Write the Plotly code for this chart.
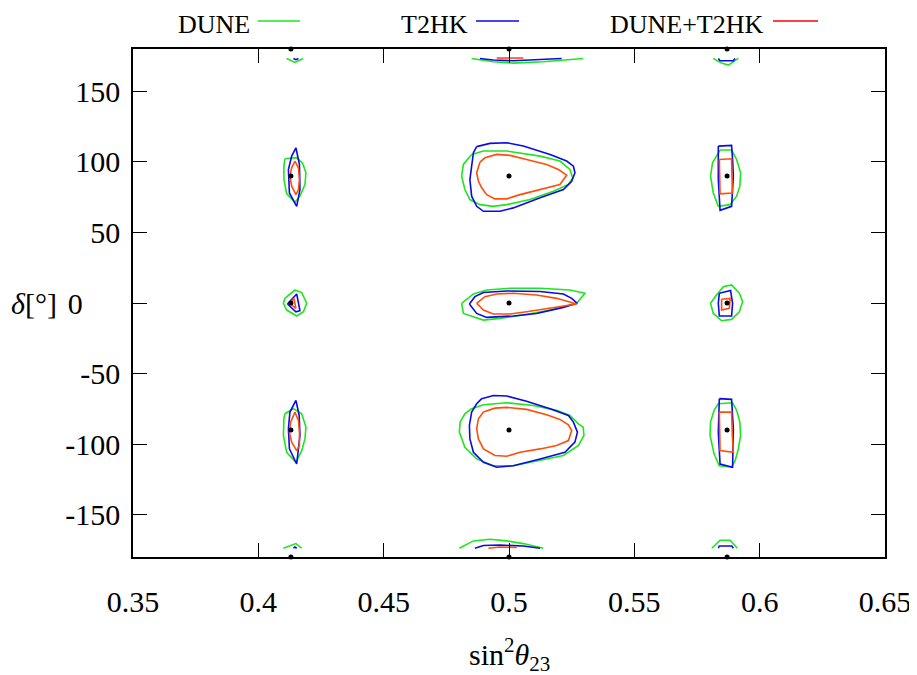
import plotly.graph_objects as go

# ---------------- axis ticks ----------------
x_ticks = [0.35, 0.4, 0.45, 0.5, 0.55, 0.6, 0.65]
x_tick_labels = ["0.35", "0.4", "0.45", "0.5", "0.55", "0.6", "0.65"]
y_ticks = [-150, -100, -50, 0, 50, 100, 150]
# the reference draws its "0" label shifted left, next to the axis title
y_tick_labels = ["-150", "-100", "-50", "0" + "\u00a0" * 5, "50", "100", "150"]

# ---------------- true (best-fit) points ----------------
true_s23 = [0.413, 0.5, 0.587]
true_delta = [-180, -90, 0, 90, 180]

# ---------------- DUNE contours (green) ----------------
dune_mid_up_x = [0.4851, 0.4898, 0.4991, 0.5124, 0.5203, 0.5243, 0.5254, 0.5237, 0.5177, 0.5084, 0.4991, 0.4937, 0.4884, 0.4844, 0.4824, 0.4811, 0.4818, 0.4851]
dune_mid_up_y = [105.3, 107.7, 107.7, 104.1, 100.6, 94.6, 88.7, 84.0, 79.2, 73.3, 69.7, 68.5, 69.7, 73.3, 80.4, 89.9, 98.2, 105.3]
dune_mid_0_x = [0.4811, 0.4858, 0.4911, 0.5004, 0.5124, 0.5243, 0.5303, 0.5270, 0.5164, 0.5057, 0.4964, 0.4898, 0.4818, 0.4811]
dune_mid_0_y = [-0.2, 6.4, 9.2, 10.4, 10.4, 9.2, 6.9, -0.2, -5.0, -8.5, -10.9, -12.1, -7.4, -0.2]
dune_mid_dn_x = [0.4851, 0.4898, 0.4991, 0.5097, 0.5190, 0.5243, 0.5277, 0.5296, 0.5299, 0.5277, 0.5217, 0.5124, 0.5017, 0.4938, 0.4871, 0.4824, 0.4802, 0.4805, 0.4824, 0.4851]
dune_mid_dn_y = [-74.9, -72.1, -70.7, -72.6, -76.1, -79.7, -85.6, -88.0, -93.9, -101.0, -108.1, -111.7, -115.3, -115.3, -110.5, -102.2, -91.5, -84.4, -78.5, -74.9]
dune_lo_up_x = [0.4106, 0.4153, 0.4177, 0.4190, 0.4186, 0.4166, 0.4146, 0.4113, 0.4102, 0.4102, 0.4106]
dune_lo_up_y = [102.2, 103.0, 98.9, 92.3, 84.0, 75.7, 71.4, 77.6, 87.5, 97.0, 102.2]
dune_lo_0_x = [0.4106, 0.4146, 0.4173, 0.4193, 0.4180, 0.4153, 0.4113, 0.4100, 0.4106]
dune_lo_0_y = [3.3, 9.2, 7.4, -0.2, -6.2, -9.2, -5.0, -0.2, 3.3]
dune_lo_dn_x = [0.4106, 0.4140, 0.4173, 0.4190, 0.4186, 0.4173, 0.4150, 0.4113, 0.4100, 0.4102, 0.4106]
dune_lo_dn_y = [-78.5, -74.9, -78.5, -88.0, -96.3, -104.6, -112.9, -105.8, -93.9, -82.0, -78.5]
dune_hi_up_x = [0.5842, 0.5888, 0.5908, 0.5924, 0.5921, 0.5908, 0.5882, 0.5835, 0.5815, 0.5804, 0.5812, 0.5835, 0.5842]
dune_hi_up_y = [108.4, 108.4, 101.7, 92.3, 82.8, 75.7, 69.7, 68.5, 78.0, 89.9, 99.4, 106.5, 108.4]
dune_hi_0_x = [0.5828, 0.5855, 0.5888, 0.5919, 0.5932, 0.5919, 0.5888, 0.5848, 0.5815, 0.5804, 0.5828]
dune_hi_0_y = [5.7, 11.6, 12.8, 6.9, 0.9, -6.2, -11.6, -12.6, -7.4, -0.2, 5.7]
dune_hi_dn_x = [0.5835, 0.5892, 0.5908, 0.5921, 0.5924, 0.5915, 0.5902, 0.5888, 0.5839, 0.5818, 0.5802, 0.5804, 0.5818, 0.5835]
dune_hi_dn_y = [-71.4, -70.7, -76.1, -84.4, -93.9, -103.4, -111.7, -116.4, -115.3, -106.9, -93.9, -84.4, -76.1, -71.4]
dune_lo_top_x = [0.4113, 0.4146, 0.4179]
dune_lo_top_y = [173.3, 170.5, 173.3]
dune_mid_top_x = [0.4851, 0.4937, 0.5017, 0.5137, 0.5296]
dune_mid_top_y = [173.3, 171.0, 170.0, 171.0, 173.3]
dune_hi_top_x = [0.5815, 0.5848, 0.5875, 0.5915]
dune_hi_top_y = [173.3, 170.0, 168.6, 173.3]
dune_lo_bot_x = [0.4100, 0.4150, 0.4173]
dune_lo_bot_y = [-173.8, -170.5, -173.8]
dune_mid_bot_x = [0.4802, 0.4858, 0.4924, 0.4991, 0.5057, 0.5137]
dune_mid_bot_y = [-173.8, -168.6, -167.4, -168.6, -170.5, -173.8]
dune_hi_bot_x = [0.5809, 0.5842, 0.5882, 0.5911]
dune_hi_bot_y = [-173.8, -168.1, -168.1, -173.8]

# ---------------- T2HK contours (blue) ----------------
t2hk_mid_up_x = [0.4871, 0.4924, 0.4991, 0.5057, 0.5164, 0.5230, 0.5257, 0.5263, 0.5250, 0.5217, 0.5124, 0.5017, 0.4964, 0.4898, 0.4871, 0.4851, 0.4844, 0.4851, 0.4858, 0.4871]
t2hk_mid_up_y = [110.8, 113.1, 113.6, 111.2, 105.3, 100.6, 97.0, 92.3, 86.3, 80.4, 74.5, 67.4, 65.0, 65.0, 68.5, 75.7, 87.5, 99.4, 106.5, 110.8]
t2hk_mid_0_x = [0.4842, 0.4864, 0.4898, 0.4991, 0.5124, 0.5217, 0.5250, 0.5272, 0.5217, 0.5110, 0.5017, 0.4911, 0.4871, 0.4842]
t2hk_mid_0_y = [-0.7, 4.5, 7.4, 8.5, 8.1, 6.4, 3.3, -0.2, -3.1, -7.4, -9.2, -10.2, -7.4, -0.7]
t2hk_mid_dn_x = [0.4891, 0.4938, 0.4991, 0.5070, 0.5164, 0.5237, 0.5257, 0.5273, 0.5263, 0.5223, 0.5124, 0.5017, 0.4951, 0.4898, 0.4858, 0.4844, 0.4842, 0.4851, 0.4871, 0.4891]
t2hk_mid_dn_y = [-67.8, -65.5, -65.9, -69.7, -74.9, -79.7, -84.4, -91.5, -98.6, -105.8, -110.5, -115.3, -116.4, -112.9, -105.8, -96.3, -86.8, -77.3, -71.4, -67.8]
t2hk_lo_up_x = [0.4150, 0.4164, 0.4166, 0.4153, 0.4124, 0.4120, 0.4133, 0.4150]
t2hk_lo_up_y = [110.0, 98.2, 80.4, 68.5, 78.0, 94.6, 104.1, 110.0]
t2hk_lo_0_x = [0.4116, 0.4153, 0.4166, 0.4150, 0.4116]
t2hk_lo_0_y = [-0.7, 6.4, -5.5, -6.2, -0.7]
t2hk_lo_dn_x = [0.4150, 0.4163, 0.4166, 0.4153, 0.4124, 0.4120, 0.4126, 0.4150]
t2hk_lo_dn_y = [-69.0, -79.7, -93.9, -114.1, -103.4, -89.2, -77.3, -69.0]
t2hk_hi_up_x = [0.5835, 0.5888, 0.5892, 0.5895, 0.5888, 0.5842, 0.5835, 0.5835]
t2hk_hi_up_y = [111.2, 111.7, 101.7, 89.9, 68.5, 65.7, 87.5, 111.2]
t2hk_hi_0_x = [0.5839, 0.5884, 0.5892, 0.5888, 0.5839, 0.5835, 0.5839]
t2hk_hi_0_y = [6.9, 8.8, -0.2, -9.2, -9.2, -0.2, 6.9]
t2hk_hi_dn_x = [0.5839, 0.5888, 0.5895, 0.5892, 0.5842, 0.5835, 0.5839]
t2hk_hi_dn_y = [-67.8, -68.3, -89.2, -116.4, -114.1, -91.5, -67.8]
t2hk_lo_top_x = [0.4140, 0.4150, 0.4160]
t2hk_lo_top_y = [173.3, 172.4, 173.3]
t2hk_mid_top_x = [0.4884, 0.4937, 0.5017, 0.5210]
t2hk_mid_top_y = [173.3, 172.2, 171.7, 173.3]
t2hk_hi_top_x = [0.5835, 0.5842, 0.5895, 0.5902]
t2hk_hi_top_y = [173.3, 171.7, 171.7, 173.3]
t2hk_lo_bot_x = [0.4140, 0.4146, 0.4153]
t2hk_lo_bot_y = [-173.8, -172.9, -173.8]
t2hk_mid_bot_x = [0.4864, 0.4898, 0.4964, 0.5057, 0.5124]
t2hk_mid_bot_y = [-173.8, -171.9, -171.5, -172.2, -173.8]
t2hk_hi_bot_x = [0.5835, 0.5839, 0.5889, 0.5895]
t2hk_hi_bot_y = [-173.8, -172.2, -172.2, -173.8]

# ---------------- DUNE+T2HK contours (red) ----------------
comb_mid_up_x = [0.4884, 0.4904, 0.4951, 0.5004, 0.5070, 0.5150, 0.5197, 0.5230, 0.5203, 0.5124, 0.5044, 0.4991, 0.4944, 0.4911, 0.4891, 0.4878, 0.4871, 0.4884]
comb_mid_up_y = [99.8, 102.9, 105.3, 104.6, 101.7, 98.2, 94.6, 90.6, 84.0, 80.4, 76.8, 73.8, 73.8, 76.8, 81.6, 86.3, 92.3, 99.8]
comb_mid_0_x = [0.4871, 0.4904, 0.4951, 0.5017, 0.5110, 0.5190, 0.5270, 0.5164, 0.5070, 0.5004, 0.4937, 0.4898, 0.4871]
comb_mid_0_y = [-0.2, 4.5, 6.4, 6.9, 5.7, 3.3, -0.7, -3.8, -6.2, -7.8, -7.8, -5.0, -0.2]
comb_mid_dn_x = [0.4898, 0.4944, 0.4991, 0.5070, 0.5150, 0.5203, 0.5237, 0.5250, 0.5237, 0.5190, 0.5124, 0.5044, 0.4991, 0.4944, 0.4898, 0.4878, 0.4871, 0.4878, 0.4898]
comb_mid_dn_y = [-77.3, -74.5, -74.0, -75.4, -79.2, -82.5, -86.3, -90.4, -97.5, -101.0, -103.4, -105.8, -108.6, -108.1, -103.4, -96.3, -89.2, -82.0, -77.3]
comb_lo_up_x = [0.4146, 0.4160, 0.4164, 0.4160, 0.4150, 0.4133, 0.4126, 0.4133, 0.4146]
comb_lo_up_y = [100.6, 95.8, 87.5, 80.4, 76.8, 82.8, 89.9, 95.8, 100.6]
comb_lo_0_x = [0.4124, 0.4142, 0.4150, 0.4124]
comb_lo_0_y = [-0.2, 3.3, -3.8, -0.2]
comb_lo_dn_x = [0.4146, 0.4160, 0.4164, 0.4164, 0.4153, 0.4133, 0.4124, 0.4129, 0.4146]
comb_lo_dn_y = [-77.3, -83.2, -91.5, -101.0, -104.6, -98.6, -91.5, -84.4, -77.3]
comb_hi_up_x = [0.5839, 0.5888, 0.5891, 0.5842, 0.5839]
comb_hi_up_y = [101.7, 102.2, 78.0, 77.3, 101.7]
comb_hi_0_x = [0.5848, 0.5882, 0.5879, 0.5848, 0.5848]
comb_hi_0_y = [2.6, 3.3, -3.8, -5.0, 2.6]
comb_hi_dn_x = [0.5839, 0.5888, 0.5891, 0.5895, 0.5842, 0.5839]
comb_hi_dn_y = [-77.3, -77.3, -93.9, -105.8, -104.6, -77.3]
comb_mid_top_x = [0.4951, 0.5057]
comb_mid_top_y = [173.6, 173.6]
comb_mid_bot_x = [0.4918, 0.4964, 0.5031]
comb_mid_bot_y = [-173.8, -172.9, -173.3]

dune_contours = [
    (dune_mid_up_x, dune_mid_up_y), (dune_mid_0_x, dune_mid_0_y), (dune_mid_dn_x, dune_mid_dn_y),
    (dune_lo_up_x, dune_lo_up_y), (dune_lo_0_x, dune_lo_0_y), (dune_lo_dn_x, dune_lo_dn_y),
    (dune_hi_up_x, dune_hi_up_y), (dune_hi_0_x, dune_hi_0_y), (dune_hi_dn_x, dune_hi_dn_y),
    (dune_lo_top_x, dune_lo_top_y), (dune_mid_top_x, dune_mid_top_y), (dune_hi_top_x, dune_hi_top_y),
    (dune_lo_bot_x, dune_lo_bot_y), (dune_mid_bot_x, dune_mid_bot_y), (dune_hi_bot_x, dune_hi_bot_y),
]
t2hk_contours = [
    (t2hk_mid_up_x, t2hk_mid_up_y), (t2hk_mid_0_x, t2hk_mid_0_y), (t2hk_mid_dn_x, t2hk_mid_dn_y),
    (t2hk_lo_up_x, t2hk_lo_up_y), (t2hk_lo_0_x, t2hk_lo_0_y), (t2hk_lo_dn_x, t2hk_lo_dn_y),
    (t2hk_hi_up_x, t2hk_hi_up_y), (t2hk_hi_0_x, t2hk_hi_0_y), (t2hk_hi_dn_x, t2hk_hi_dn_y),
    (t2hk_lo_top_x, t2hk_lo_top_y), (t2hk_mid_top_x, t2hk_mid_top_y), (t2hk_hi_top_x, t2hk_hi_top_y),
    (t2hk_lo_bot_x, t2hk_lo_bot_y), (t2hk_mid_bot_x, t2hk_mid_bot_y), (t2hk_hi_bot_x, t2hk_hi_bot_y),
]
comb_contours = [
    (comb_mid_up_x, comb_mid_up_y), (comb_mid_0_x, comb_mid_0_y), (comb_mid_dn_x, comb_mid_dn_y),
    (comb_lo_up_x, comb_lo_up_y), (comb_lo_0_x, comb_lo_0_y), (comb_lo_dn_x, comb_lo_dn_y),
    (comb_hi_up_x, comb_hi_up_y), (comb_hi_0_x, comb_hi_0_y), (comb_hi_dn_x, comb_hi_dn_y),
    (comb_mid_top_x, comb_mid_top_y), (comb_mid_bot_x, comb_mid_bot_y),
]

GREEN = "#1ee61e"
BLUE = "#0a0ae6"
ORANGE = "#ff4d0a"
RED = "#ff0000"
FONT = "Liberation Serif"
FS = 30


def joined(contours):
    xs, ys = [], []
    for cx, cy in contours:
        xs += list(cx) + [None]
        ys += list(cy) + [None]
    return xs, ys


fig = go.Figure()
for name, cont, col in [("DUNE", dune_contours, GREEN), ("T2HK", t2hk_contours, BLUE),
                        ("DUNE+T2HK", comb_contours, ORANGE)]:
    xs, ys = joined(cont)
    fig.add_trace(go.Scatter(x=xs, y=ys, mode="lines", name=name, showlegend=False,
                             line=dict(color=col, width=1.6), connectgaps=False,
                             hoverinfo="skip"))

px, py = [], []
for d in true_delta:
    for s in true_s23:
        px.append(s)
        py.append(d)
fig.add_trace(go.Scatter(x=px, y=py, mode="markers", showlegend=False, cliponaxis=False,
                         marker=dict(color="black", size=5)))

axis_common = dict(showline=True, linecolor="black", linewidth=1.5, mirror="ticks",
                   ticks="inside", ticklen=14, tickwidth=1.3, tickcolor="black",
                   showgrid=False, zeroline=False, automargin=False,
                   tickfont=dict(family=FONT, size=FS, color="black"))
fig.update_xaxes(range=[0.35, 0.65], tickvals=x_ticks, ticktext=x_tick_labels,
                 ticklabelstandoff=17, **axis_common)
fig.update_yaxes(range=[-180, 180], tickvals=y_ticks, ticktext=y_tick_labels,
                 ticklabelstandoff=5, **axis_common)

annotations = [
    dict(text="<i>δ</i>[°]", xref="paper", yref="paper", x=-0.132, y=0.5, showarrow=False,
         font=dict(family=FONT, size=FS, color="black"), xanchor="center", yanchor="middle"),
    dict(text="sin<sup>2</sup><i>θ</i><sub>23</sub>", xref="paper", yref="paper", x=0.5, y=-0.192,
         showarrow=False, font=dict(family=FONT, size=FS, color="black"),
         xanchor="center", yanchor="middle"),
]
shapes = []
legend_items = [("DUNE", GREEN, 252, 258, 300), ("T2HK", BLUE, 470, 476, 519),
                ("DUNE+T2HK", RED, 766, 773, 818)]
for label, col, tx, l0, l1 in legend_items:
    annotations.append(dict(text=label, xref="paper", yref="paper", x=(tx - 133) / 752,
                            y=(557 - 24) / 508, showarrow=False, xanchor="right", yanchor="middle",
                            font=dict(family=FONT, size=26, color="black")))
    shapes.append(dict(type="line", xref="paper", yref="paper", x0=(l0 - 133) / 752,
                       x1=(l1 - 133) / 752, y0=(557 - 21) / 508, y1=(557 - 21) / 508,
                       line=dict(color=col, width=1.6)))

# the page body adds an 8 px offset, so margins are reduced accordingly
fig.update_layout(width=917, height=675, margin=dict(l=125, r=40, t=41, b=126),
                  plot_bgcolor="white", paper_bgcolor="white",
                  font=dict(family=FONT, color="black"),
                  annotations=annotations, shapes=shapes, showlegend=False)

fig.write_html("out.html")
